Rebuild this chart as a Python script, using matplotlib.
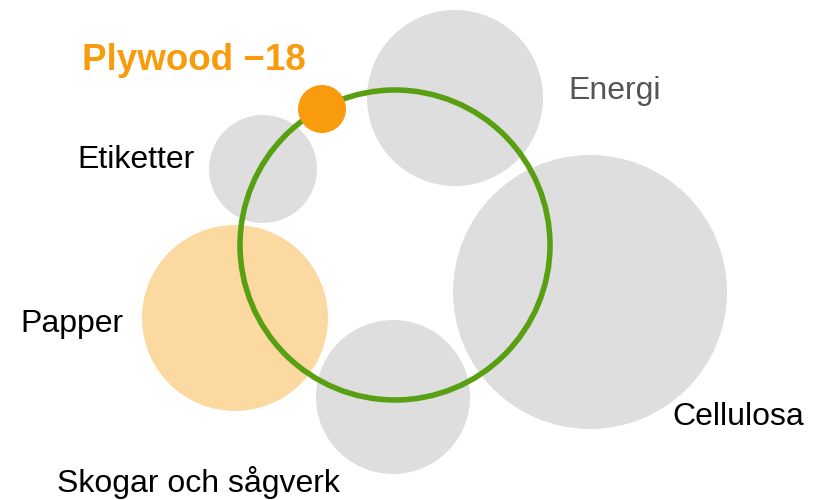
import matplotlib.pyplot as plt
from matplotlib.patches import Circle

# bubbles: name, centre x, centre y, radius (pixel space of the picture)
names = ["Energi", "Etiketter", "Papper", "Skogar och sågverk", "Cellulosa"]
cx = [455, 263, 235, 393, 590]
cy = [98, 169, 318, 397, 292]
radius = [88, 54, 93, 77, 137]
fills = ["#dedede", "#dedede", "#fcd9a1", "#dedede", "#dedede"]

# label anchor (left x, baseline y)
lab_x = [568, 77, 20, 57, 672]
lab_y = [99, 168, 332, 492, 425]
lab_col = ["#555555", "black", "black", "black", "black"]

ring = (395, 245, 155)
dot = (322, 109, 24)
highlight = "Plywood \u221218"

fig = plt.figure(figsize=(8.21, 5), dpi=100)
ax = fig.add_axes([0, 0, 1, 1])
ax.set_xlim(0, 821)
ax.set_ylim(500, 0)
ax.set_aspect("equal")
ax.axis("off")

for i in range(len(names)):
    ax.add_patch(Circle((cx[i], cy[i]), radius[i], color=fills[i], lw=0))
    ax.text(lab_x[i], lab_y[i], names[i], fontsize=23, color=lab_col[i],
            family="Liberation Sans", ha="left", va="baseline")

ax.add_patch(Circle(ring[:2], ring[2], fill=False, ec="#58a012", lw=4))
ax.add_patch(Circle(dot[:2], dot[2], color="#f89c0e", lw=0))
ax.text(82, 70, highlight, fontsize=26.5, color="#f89c0e", fontweight="bold",
        family="Liberation Sans", ha="left", va="baseline")

fig.savefig("out.png")
